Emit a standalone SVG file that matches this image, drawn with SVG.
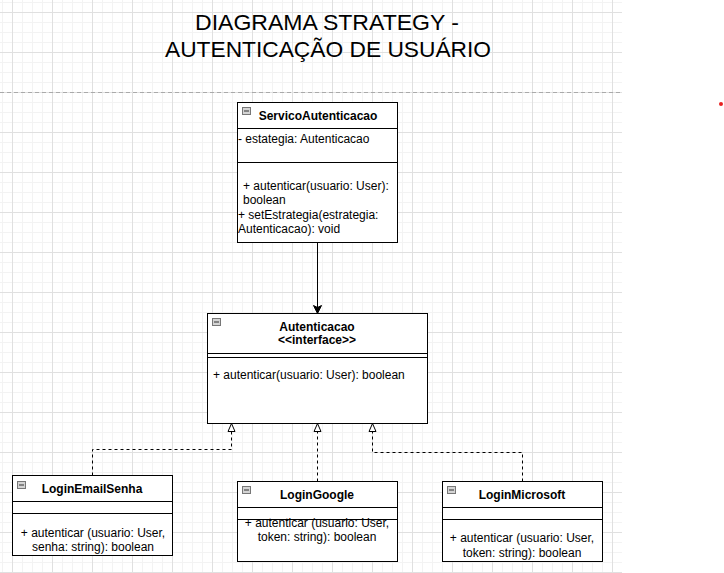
<svg xmlns="http://www.w3.org/2000/svg" xmlns:xlink="http://www.w3.org/1999/xlink" width="724" height="573" viewBox="0 0 724 573">
<style>
.box{fill:#fff;stroke:#000;stroke-width:1}
.sep{stroke:#000;stroke-width:1;fill:none}
.t{font-family:"Liberation Sans",Arial,sans-serif;font-size:12px;fill:#000}
.b{font-weight:bold}
.m{text-anchor:middle}
.title{font-family:"Liberation Sans",Arial,sans-serif;font-size:22px;fill:#000;text-anchor:middle}
.dash{fill:none;stroke:#000;stroke-width:1;stroke-dasharray:3 3}
.solid{fill:none;stroke:#000;stroke-width:1}
</style>
<defs>
<pattern id="grid" patternUnits="userSpaceOnUse" x="12" y="12" width="40" height="40">
<path d="M10.5,0V40M20.5,0V40M30.5,0V40M0,10.5H40M0,20.5H40M0,30.5H40" stroke="#f3f3f3" stroke-width="1" fill="none"/>
<path d="M0.5,0V40M0,0.5H40" stroke="#e0e0e0" stroke-width="1" fill="none"/>
</pattern>
<symbol id="icon" overflow="visible">
<rect x="0.5" y="0.5" width="8" height="7" fill="#d4d4d4" stroke="#777" stroke-width="1"/>
<path d="M2,4H7" stroke="#333" stroke-width="1"/>
</symbol>
<marker id="hollow" markerUnits="userSpaceOnUse" markerWidth="12" markerHeight="12" refX="8.5" refY="4" orient="auto" overflow="visible">
<path d="M0.5,0.5L8.5,4L0.5,7.5Z" fill="#fff" stroke="#000" stroke-width="1" stroke-dasharray="none"/>
</marker>
<marker id="block" markerUnits="userSpaceOnUse" markerWidth="12" markerHeight="12" refX="8" refY="4" orient="auto" overflow="visible">
<path d="M0,0L8,4L0,8L2,4Z" fill="#000" stroke="#000" stroke-width="1"/>
</marker>
</defs>
<rect width="724" height="573" fill="#fff"/>
<rect x="0" y="0" width="622" height="573" fill="url(#grid)"/>
<path d="M0,92.5H622" stroke="#aaa" stroke-width="1" stroke-dasharray="4 3"/>
<circle cx="721" cy="104" r="2" fill="#e82020"/>

<g id="title">
<text class="title" x="327" y="30" textLength="264" lengthAdjust="spacingAndGlyphs">DIAGRAMA STRATEGY -</text>
<text class="title" x="328" y="57" textLength="326" lengthAdjust="spacingAndGlyphs">AUTENTICAÇÃO DE USUÁRIO</text>
</g>

<g id="connectors">
<path class="solid" d="M317.5,242.5V313.5" marker-end="url(#block)"/>
<path class="dash" d="M92.5,475.5V449.5H231.5V423.5" marker-end="url(#hollow)"/>
<path class="dash" d="M317.5,481.5V423.5" marker-end="url(#hollow)"/>
<path class="dash" d="M522.5,481.5V452.5H372.5V423.5" marker-end="url(#hollow)"/>
</g>

<g id="ServicoAutenticacao">
<rect class="box" x="237.5" y="102.5" width="160" height="140"/>
<path class="sep" d="M237.5,128.5H397.5M237.5,162.5H397.5"/>
<use xlink:href="#icon" x="242" y="107"/>
<text class="t b m" x="318" y="120">ServicoAutenticacao</text>
<text class="t" x="238" y="143">- estategia: Autenticacao</text>
<text class="t" x="243" y="190">+ autenticar(usuario: User):</text>
<text class="t" x="243" y="204">boolean</text>
<text class="t" x="238" y="219">+ setEstrategia(estrategia:</text>
<text class="t" x="238" y="233">Autenticacao): void</text>
</g>

<g id="Autenticacao">
<rect class="box" x="207.5" y="313.5" width="220" height="110"/>
<path class="sep" d="M207.5,353.5H427.5M207.5,357.5H427.5"/>
<use xlink:href="#icon" x="212" y="318"/>
<text class="t b m" x="317" y="331">Autenticacao</text>
<text class="t b m" x="317" y="344">&lt;&lt;interface&gt;&gt;</text>
<text class="t" x="213" y="379">+ autenticar(usuario: User): boolean</text>
</g>

<g id="LoginEmailSenha">
<rect class="box" x="12.5" y="475.5" width="160" height="80"/>
<path class="sep" d="M12.5,501.5H172.5M12.5,513.5H172.5"/>
<use xlink:href="#icon" x="17" y="481"/>
<text class="t b m" x="92" y="493">LoginEmailSenha</text>
<text class="t m" x="93" y="537">+ autenticar (usuario: User,</text>
<text class="t m" x="93" y="551">senha: string): boolean</text>
</g>

<g id="LoginGoogle">
<rect class="box" x="237.5" y="481.5" width="160" height="80"/>
<use xlink:href="#icon" x="242" y="486"/>
<text class="t b m" x="317" y="499">LoginGoogle</text>
<text class="t m" x="317" y="527">+ autenticar (usuario: User,</text>
<text class="t m" x="317" y="541">token: string): boolean</text>
<path class="sep" d="M237.5,507.5H397.5M237.5,519.5H397.5"/>
</g>

<g id="LoginMicrosoft">
<rect class="box" x="442.5" y="481.5" width="160" height="80"/>
<path class="sep" d="M442.5,507.5H602.5M442.5,519.5H602.5"/>
<use xlink:href="#icon" x="447" y="486"/>
<text class="t b m" x="522" y="499">LoginMicrosoft</text>
<text class="t m" x="522" y="542">+ autenticar (usuario: User,</text>
<text class="t m" x="522" y="557">token: string): boolean</text>
</g>
</svg>
